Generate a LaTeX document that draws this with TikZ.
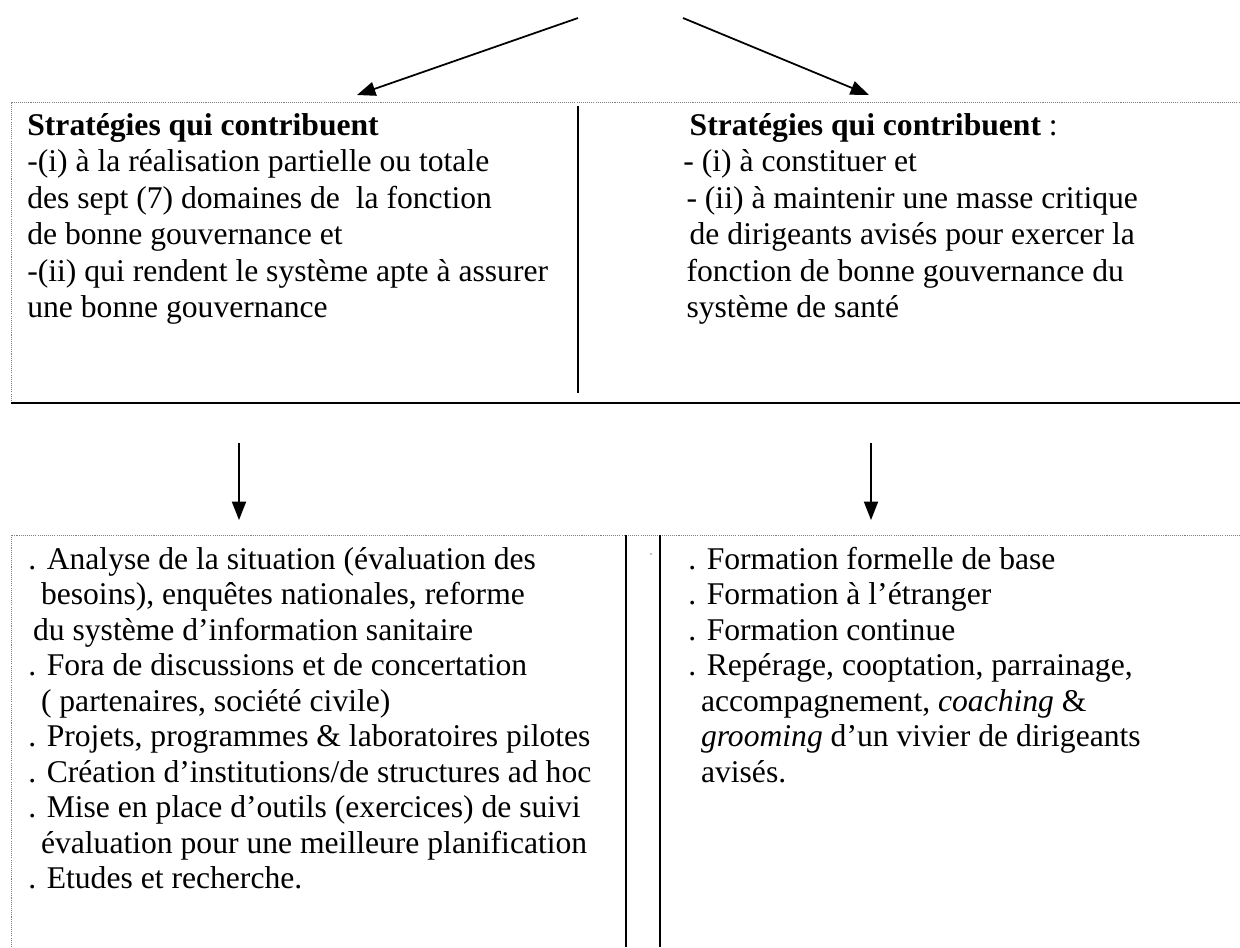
\documentclass[tikz,border=0pt]{standalone}
\usepackage{fontspec}
\setmainfont{Liberation Serif}
\usetikzlibrary{arrows.meta}

\tikzset{
  txt/.style={anchor=base west, inner sep=0pt, font=\fontsize{18}{20.7}\selectfont},
  dotline/.style={gray, line width=0.5pt, dash pattern=on 0.6pt off 0.6pt},
  sepline/.style={line width=0.6pt},
  arr/.style={line width=1pt, -{Triangle[length=10.5pt,width=8pt]}},
}
\def\lh{36.5}
\def\lhb{35.5}

\begin{document}
\begin{tikzpicture}[x=0.02cm, y=-0.02cm]
  \useasboundingbox (0,0) rectangle (1240,947);

  % upper frame
  \draw[dotline] (11,403) -- (11,102) -- (1240,102);
  \draw[line width=1.1pt] (11,403) -- (1240,403);
  \draw[sepline] (578,106) -- (578,393);

  % lower frame
  \draw[dotline] (11,947) -- (11,535) -- (1240,535);
  \draw[sepline] (626,535) -- (626,947);
  \draw[sepline] (660,535) -- (660,947);
  \fill (651,554) circle (0.7);

  % arrows
  \coordinate (srcL) at (578,18);
  \coordinate (tipL) at (357,95);
  \coordinate (srcR) at (683,18);
  \coordinate (tipR) at (869,95);
  \coordinate (dnL) at (239,443);
  \coordinate (upL) at (239,520);
  \coordinate (dnR) at (871,443);
  \coordinate (upR) at (871,520);
  \draw[arr] (srcL) -- (tipL);
  \draw[arr] (srcR) -- (tipR);
  \draw[arr] (dnL) -- (upL);
  \draw[arr] (dnR) -- (upR);

  % upper texts
  \foreach \t [count=\i from 0] in {
      {\textbf{Stratégies qui contribuent}},
      {-(i) à la réalisation partielle ou totale},
      {des sept (7) domaines de\ \ la fonction},
      {de bonne gouvernance et},
      {-(ii) qui rendent le système apte à assurer},
      {une bonne gouvernance}} {
    \node[txt, name=ul\i] at (27,{135+\lh*\i}) {\t};
  }
  \foreach \t [count=\i from 0] in {
      {\hspace*{0.2em}\textbf{Stratégies qui contribuent} :},
      {- (i) à constituer et},
      {\hspace*{0.1em}- (ii) à maintenir une masse critique},
      {\hspace*{0.2em}de dirigeants avisés pour exercer la},
      {\hspace*{0.1em}fonction de bonne gouvernance du},
      {\hspace*{0.1em}système de santé}} {
    \node[txt, name=ur\i] at (683,{135+\lh*\i}) {\t};
  }

  % lower texts
  \foreach \t [count=\i from 0] in {
      {. Analyse de la situation (évaluation des},
      {\hspace*{0.4em}besoins), enquêtes nationales, reforme},
      {\hspace*{0.15em}du système d’information sanitaire},
      {. Fora de discussions et de concertation},
      {\hspace*{0.4em}( partenaires, société civile)},
      {. Projets, programmes \& laboratoires pilotes},
      {. Création d’institutions/de structures ad hoc},
      {. Mise en place d’outils (exercices) de suivi},
      {\hspace*{0.4em}évaluation pour une meilleure planification},
      {. Etudes et recherche.}} {
    \node[txt, name=ll\i] at (28,{569+\lhb*\i}) {\t};
  }
  \foreach \t [count=\i from 0] in {
      {. Formation formelle de base},
      {. Formation à l’étranger},
      {. Formation continue},
      {. Repérage, cooptation, parrainage,},
      {\hspace*{0.4em}accompagnement, \textit{coaching} \&},
      {\hspace*{0.4em}\textit{grooming} d’un vivier de dirigeants},
      {\hspace*{0.4em}avisés.}} {
    \node[txt, name=lr\i] at (688,{569+\lhb*\i}) {\t};
  }
\end{tikzpicture}
\end{document}
